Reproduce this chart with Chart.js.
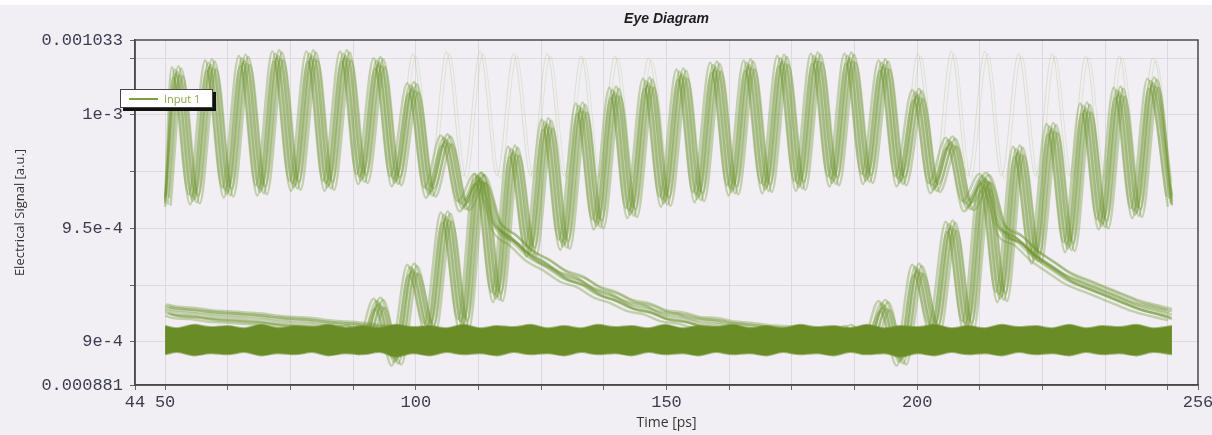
<!DOCTYPE html>
<html>
<head>
<meta charset="UTF-8">
<title>Eye Diagram</title>
<script src="https://cdn.jsdelivr.net/npm/chart.js@4.4.1/dist/chart.umd.min.js"></script>
<style>
  html, body { margin: 0; padding: 0; }
  body { width: 1212px; height: 435px; position: relative; overflow: hidden;
         background: linear-gradient(#ffffff 0 5px, #f1eff4 5px); font-family: 'Open Sans', sans-serif; }
  #myChart { position: absolute; left: 0; top: 0; }
  #legend { position: absolute; left: 120px; top: 89px; width: 91px; height: 17px; background: #fff;
            border: 1px solid #444; box-shadow: 3px 3px 0 #111; font-size: 11px; color: #8aa64e; }
  #legend .line { position: absolute; left: 8px; top: 8px; width: 29px; border-top: 2px solid #7f9f45; }
  #legend .txt { position: absolute; left: 43px; top: 0; line-height: 17px; }
</style>
</head>
<body>
<canvas id="myChart" width="1212" height="435"></canvas>
<div id="legend"><span class="line"></span><span class="txt">Input 1</span></div>
<script>
// sample times (ps): peaks and troughs of the ringing
var timePs = [
  50.0, 52.4, 55.8, 59.1, 62.5, 65.8, 69.2, 72.5, 75.9, 79.3,
  82.6, 86.0, 89.3, 92.7, 96.0, 99.4, 102.8, 106.1, 109.5, 112.8,
  116.2, 119.5, 122.9, 126.2, 129.6, 133.0, 136.3, 139.7, 143.0, 146.4,
  149.7, 153.1, 156.4, 159.8, 163.2, 166.5, 169.9, 173.2, 176.6, 179.9,
  183.3, 186.6, 190.0, 193.4, 196.7, 200.1, 203.4, 206.8, 210.1, 213.5,
  216.8, 220.2, 223.6, 226.9, 230.3, 233.6, 237.0, 240.3, 243.7, 247.0,
  250.8
];

// signal values in 1e-6 a.u. at those times (null = trace not present)
var highThenFall = [
  962, 1019, 963, 1022, 966, 1024, 967, 1026, 969, 1026,
  969, 1026, 972, 1023, 971, 1012, 966, 989, 960, 972,
  951, 945, 938, 934, 929, 926.5, 922, 919.5, 916, 914.5,
  911.5, 910.5, 908.5, 908, 906.5, 906, 905, 904.5, 904, null,
  null, null, null, null, null, null, null, null, null, null,
  null, null, null, null, null, null, null, null, null, null,
  null
];
var riseThenFall = [
  null, null, null, null, null, null, null, null, null, null,
  900, 905, 897, 917, 892, 932, 906, 955, 908, 972,
  920, 984, 940, 996, 943, 1003, 952, 1010, 957, 1014,
  962, 1018, 964, 1021, 967, 1022, 968, 1024, 969, 1025,
  971, 1025, 972, 1022, 971, 1009, 968, 988, 960, 972,
  950, 945, 938, 933, 928, 925, 922, 919, 916, 914,
  912
];
var secondRise = [
  null, null, null, null, null, null, null, null, null, null,
  null, null, null, null, null, null, null, null, null, null,
  null, null, null, null, null, null, null, null, null, null,
  null, null, null, null, null, null, null, null, null, null,
  900, 905, 897, 916, 892, 932, 906, 951, 907, 969,
  920, 984, 937, 994, 942, 1003, 952, 1010, 957, 1014,
  962
];
var earlierTail = [
  914, 913, 912.5, 911.5, 911, 910.5, 910, 909, 908.5, 908,
  907, 906.5, 906, 905, 904.5, null, null, null, null, null,
  null, null, null, null, null, null, null, null, null, null,
  null, null, null, null, null, null, null, null, null, null,
  null, null, null, null, null, null, null, null, null, null,
  null, null, null, null, null, null, null, null, null, null,
  null
];
var stayHigh = [
  null, null, null, null, null, null, null, null, null, null,
  null, null, null, 1025, 971, 1027, 972, 1028, 973, 1028,
  973, 1027, 973, 1027, 973, 1026, 972, 1026, 972, 1025,
  971, null, null, null, null, null, null, null, null, null,
  null, null, null, 1025, 971, 1027, 972, 1028, 973, 1028,
  973, 1027, 973, 1027, 973, 1026, 972, 1026, 972, 1025,
  971
];
var lowBandTop = [
  907, 906, 907.5, 906.5, 907, 906, 907.5, 906, 907, 906.5,
  907.5, 906, 907, 906, 907.5, 906.5, 907, 906, 907.5, 906,
  907, 906.5, 907.5, 906, 907, 906, 907.5, 906.5, 907, 906,
  907.5, 906, 907, 906.5, 907.5, 906, 907, 906, 907.5, 906.5,
  907, 906, 907.5, 906, 907, 906.5, 907.5, 906, 907, 906,
  907.5, 906.5, 907, 906, 907.5, 906, 907, 906.5, 907.5, 906,
  907
];
var lowBandBottom = [
  894.5, 895.5, 894, 895, 894.5, 895.5, 894, 895, 894.5, 895.5,
  894, 895, 894.5, 895.5, 893.5, 895, 894, 895.5, 894.5, 895,
  894, 895.5, 894.5, 895, 894, 895.5, 894.5, 895, 894, 895.5,
  894.5, 895, 894, 895.5, 894.5, 895, 894, 895.5, 894.5, 895,
  894, 895.5, 894.5, 895, 893.5, 895, 894, 895.5, 894.5, 895,
  894, 895.5, 894.5, 895, 894, 895.5, 894.5, 895, 894, 895.5,
  894.5
];

// spread of the overlaid acquisitions (ps, 1e-6 a.u.)
var jitterPs = [-1.1, -0.8, -0.5, -0.25, 0, 0.25, 0.5, 0.8, 1.1];
var jitterLevel = [2, -2.5, 1, -1, 0, 2.5, -1.5, 1.5, -2];

// axis ticks
var xLabelTicks = [44, 50, 100, 150, 200, 256];
var xGridTicks = [44, 50, 62.5, 75, 87.5, 100, 112.5, 125, 137.5, 150, 162.5, 175, 187.5, 200, 212.5, 225, 237.5, 250, 256];
var yLabelTicks = [0.000881, 0.0009, 0.00095, 0.001, 0.001033];
var yLabelText = ['0.000881', '9e-4', '9.5e-4', '1e-3', '0.001033'];
var yGridTicks = [0.000881, 0.0009, 0.000925, 0.00095, 0.000975, 0.001, 0.001025, 0.001033];

function points(values, shift, lift) {
  var pts = [];
  for (var i = 0; i < timePs.length; i++) {
    var x = Math.min(250.8, Math.max(50, timePs[i] + shift));
    pts.push({x: x, y: values[i] === null ? null : (values[i] + lift) * 1e-6});
  }
  return pts;
}

var bandColor = '#6a8c26';
var traceColor = 'rgba(112,150,46,0.36)';

var datasets = [
  {data: points(lowBandBottom, 0, 0), borderColor: 'rgba(106,140,38,0.6)', borderWidth: 2, fill: false},
  {data: points(lowBandTop, 0, 0), borderColor: 'rgba(106,140,38,0.6)', borderWidth: 2, fill: '-1', backgroundColor: bandColor}
];
[highThenFall, riseThenFall, secondRise, earlierTail].forEach(function(trace) {
  for (var j = 0; j < jitterPs.length; j++) {
    datasets.push({data: points(trace, jitterPs[j], jitterLevel[j]), borderColor: traceColor, borderWidth: 2.4, fill: false});
  }
});
datasets.push({data: points(stayHigh, 0, 0), borderColor: 'rgba(150,180,100,0.25)', borderWidth: 1, fill: false});
datasets.push({data: points(stayHigh, 0.6, -1), borderColor: 'rgba(150,180,100,0.2)', borderWidth: 1, fill: false});

function near(a, b) { return Math.abs(a - b) < 1e-9; }

var framePlugin = {
  id: 'frame',
  afterDraw: function(chart) {
    var a = chart.chartArea, c = chart.ctx;
    c.save();
    c.strokeStyle = '#4a4a4a';
    c.lineWidth = 1.5;
    c.strokeRect(a.left, a.top, a.right - a.left, a.bottom - a.top);
    c.restore();
  }
};

var ctx = document.getElementById('myChart').getContext('2d');
var myChart = new Chart(ctx, {
  type: 'line',
  data: {datasets: datasets},
  plugins: [framePlugin],
  options: {
    responsive: false,
    animation: false,
    devicePixelRatio: 1,
    layout: {padding: {top: 3, right: 14, left: 0, bottom: 0}},
    elements: {
      point: {radius: 0},
      line: {cubicInterpolationMode: 'monotone'}
    },
    plugins: {
      legend: {display: false},
      tooltip: {enabled: false},
      title: {
        display: true,
        text: 'Eye Diagram',
        fullSize: false,
        color: '#1e1e1e',
        font: {family: 'Liberation Sans', size: 14, weight: 'bold', style: 'italic'},
        padding: {top: 8, bottom: 12.2}
      }
    },
    scales: {
      x: {
        type: 'linear',
        min: 44,
        max: 256,
        afterBuildTicks: function(scale) {
          scale.ticks = xGridTicks.map(function(v) { return {value: v}; });
        },
        afterFit: function(scale) {
          scale.height = 50;
          scale.paddingLeft = 0;
          scale.paddingRight = 0;
        },
        grid: {
          color: function(c) {
            var v = c.tick ? c.tick.value : null;
            return (v === 44 || v === 256) ? 'rgba(0,0,0,0)' : '#dcd9df';
          },
          tickColor: '#666',
          tickLength: 5
        },
        border: {color: '#4a4a4a', width: 1.5},
        ticks: {
          autoSkip: false,
          maxRotation: 0,
          padding: 2,
          color: '#3c3c50',
          font: {family: 'Liberation Mono', size: 17},
          callback: function(value) {
            return xLabelTicks.indexOf(value) >= 0 ? String(value) : '';
          }
        },
        title: {
          display: true,
          text: 'Time [ps]',
          color: '#333',
          font: {family: 'Open Sans', size: 14},
          padding: {top: 0, bottom: 4}
        }
      },
      y: {
        min: 0.000881,
        max: 0.001033,
        afterBuildTicks: function(scale) {
          scale.ticks = yGridTicks.map(function(v) { return {value: v}; });
        },
        afterFit: function(scale) {
          scale.width = 135;
        },
        grid: {
          color: function(c) {
            var v = c.tick ? c.tick.value : null;
            return (near(v, 0.000881) || near(v, 0.001033)) ? 'rgba(0,0,0,0)' : '#dcd9df';
          },
          tickColor: '#666',
          tickLength: 5
        },
        border: {color: '#4a4a4a', width: 1.5},
        ticks: {
          autoSkip: false,
          padding: 7,
          color: '#3c3c50',
          font: {family: 'Liberation Mono', size: 17},
          callback: function(value) {
            for (var i = 0; i < yLabelTicks.length; i++) {
              if (near(value, yLabelTicks[i])) return yLabelText[i];
            }
            return '';
          }
        },
        title: {
          display: true,
          text: 'Electrical Signal [a.u.]',
          color: '#333',
          font: {family: 'Open Sans', size: 13},
          padding: {top: 12, bottom: 0}
        }
      }
    }
  }
});
</script>
</body>
</html>
